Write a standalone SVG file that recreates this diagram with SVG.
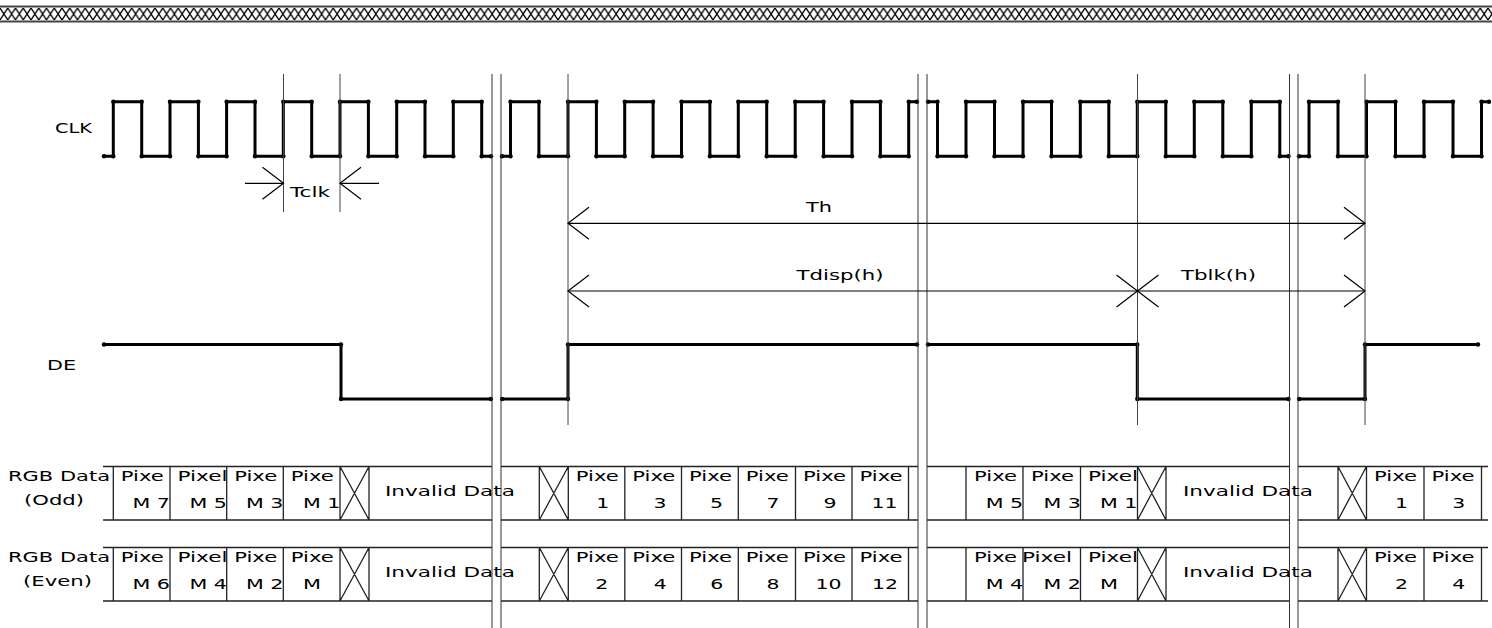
<svg xmlns="http://www.w3.org/2000/svg" width="1492" height="628" viewBox="0 0 1492 628">
<style>
text{font-family:"DejaVu Sans",Verdana,sans-serif;font-size:14.5px;fill:#000}
.c{text-anchor:middle}
.sig{fill:none;stroke:#000;stroke-width:3;stroke-linejoin:round;stroke-linecap:round;marker-start:url(#dot);marker-mid:url(#dot);marker-end:url(#dot)}
.vl{fill:none;stroke:#444;stroke-width:1}
.brk{fill:none;stroke:#333;stroke-width:1}
.grid{fill:none;stroke:#222;stroke-width:1.3}
.arr{fill:none;stroke:#000;stroke-width:1.2;marker-start:url(#ah);marker-end:url(#ah)}
.arr1{fill:none;stroke:#000;stroke-width:1.2;marker-end:url(#ah)}
</style>
<defs>
<marker id="dot" viewBox="-3 -3 6 6" refX="0" refY="0" markerWidth="6" markerHeight="6" markerUnits="userSpaceOnUse"><circle r="2.2" fill="#000"/></marker>
<marker id="ah" viewBox="-23 -18 25 36" refX="0" refY="0" markerWidth="25" markerHeight="36" markerUnits="userSpaceOnUse" orient="auto-start-reverse"><path d="M-21,-16L0,0L-21,16" fill="none" stroke="#000" stroke-width="1.2"/></marker>
<pattern id="hatch" x="0" y="8" width="7.75" height="12" patternUnits="userSpaceOnUse"><path d="M0,0L7.75,12M7.75,0L0,12" stroke="#000" stroke-width="1.3" fill="none"/></pattern>
<path id="rowgrid" class="grid" d="M103,466.5H492M103,520H492M501,466.5H918M501,520H918M927,466.5H1289.5M927,520H1289.5M1298,466.5H1488M1298,520H1488
M113.3,466.5V520M170,466.5V520M226.7,466.5V520M283.3,466.5V520M340,466.5V520M369,466.5V520M340,466.5L369,520M369,466.5L340,520
M539.3,466.5V520M568.3,466.5V520M539.3,466.5L568.3,520M568.3,466.5L539.3,520M624.8,466.5V520M681.5,466.5V520M738.3,466.5V520M795.5,466.5V520M852,466.5V520M908.5,466.5V520
M966,466.5V520M1023,466.5V520M1080.5,466.5V520M1137.5,466.5V520M1166,466.5V520M1137.5,466.5L1166,520M1166,466.5L1137.5,520
M1338,466.5V520M1366.5,466.5V520M1338,466.5L1366.5,520M1366.5,466.5L1338,520M1424,466.5V520M1481.5,466.5V520"/>
</defs>
<rect width="1492" height="628" fill="#fff"/>
<g id="header-band">
<rect x="0" y="8" width="1492" height="12" fill="url(#hatch)"/>
<path d="M0,6.5H1492M0,21.5H1492" stroke="#444" stroke-width="2"/>
</g>
<g id="labels">
<text x="55" y="133" textLength="37" lengthAdjust="spacingAndGlyphs">CLK</text>
<text x="47" y="370" textLength="29" lengthAdjust="spacingAndGlyphs">DE</text>
<text x="8" y="481" textLength="102" lengthAdjust="spacingAndGlyphs">RGB Data</text>
<text x="24" y="505" textLength="60" lengthAdjust="spacingAndGlyphs">(Odd)</text>
<text x="8" y="562" textLength="102" lengthAdjust="spacingAndGlyphs">RGB Data</text>
<text x="23" y="586" textLength="69" lengthAdjust="spacingAndGlyphs">(Even)</text>
</g>
<g id="rgb-odd">
<use href="#rowgrid"/>
<text x="120.8" y="481" textLength="43" lengthAdjust="spacingAndGlyphs">Pixe</text><text x="132.5" y="508" textLength="37.5" lengthAdjust="spacingAndGlyphs">M 7</text>
<text x="177.5" y="481" textLength="50" lengthAdjust="spacingAndGlyphs">Pixel</text><text x="189.5" y="508" textLength="37.5" lengthAdjust="spacingAndGlyphs">M 5</text>
<text x="234.2" y="481" textLength="43" lengthAdjust="spacingAndGlyphs">Pixe</text><text x="246" y="508" textLength="37.5" lengthAdjust="spacingAndGlyphs">M 3</text>
<text x="290.8" y="481" textLength="43" lengthAdjust="spacingAndGlyphs">Pixe</text><text x="303" y="508" textLength="37.5" lengthAdjust="spacingAndGlyphs">M 1</text>
<text x="385" y="496" textLength="130" lengthAdjust="spacingAndGlyphs">Invalid Data</text>
<text x="575.8" y="481" textLength="43" lengthAdjust="spacingAndGlyphs">Pixe</text><text class="c" x="602.8" y="508" textLength="13" lengthAdjust="spacingAndGlyphs">1</text>
<text x="632.3" y="481" textLength="43" lengthAdjust="spacingAndGlyphs">Pixe</text><text class="c" x="660" y="508" textLength="13" lengthAdjust="spacingAndGlyphs">3</text>
<text x="689" y="481" textLength="43" lengthAdjust="spacingAndGlyphs">Pixe</text><text class="c" x="716.5" y="508" textLength="13" lengthAdjust="spacingAndGlyphs">5</text>
<text x="745.8" y="481" textLength="43" lengthAdjust="spacingAndGlyphs">Pixe</text><text class="c" x="773" y="508" textLength="13" lengthAdjust="spacingAndGlyphs">7</text>
<text x="803" y="481" textLength="43" lengthAdjust="spacingAndGlyphs">Pixe</text><text class="c" x="830" y="508" textLength="13" lengthAdjust="spacingAndGlyphs">9</text>
<text x="859.5" y="481" textLength="43" lengthAdjust="spacingAndGlyphs">Pixe</text><text class="c" x="884.5" y="508" textLength="26" lengthAdjust="spacingAndGlyphs">11</text>
<text x="974" y="481" textLength="43" lengthAdjust="spacingAndGlyphs">Pixe</text><text x="985.7" y="508" textLength="37.5" lengthAdjust="spacingAndGlyphs">M 5</text>
<text x="1031" y="481" textLength="43" lengthAdjust="spacingAndGlyphs">Pixe</text><text x="1043.5" y="508" textLength="37.5" lengthAdjust="spacingAndGlyphs">M 3</text>
<text x="1088" y="481" textLength="50" lengthAdjust="spacingAndGlyphs">Pixel</text><text x="1100" y="508" textLength="37.5" lengthAdjust="spacingAndGlyphs">M 1</text>
<text x="1183" y="496" textLength="130" lengthAdjust="spacingAndGlyphs">Invalid Data</text>
<text x="1374" y="481" textLength="43" lengthAdjust="spacingAndGlyphs">Pixe</text><text class="c" x="1401.5" y="508" textLength="13" lengthAdjust="spacingAndGlyphs">1</text>
<text x="1431.5" y="481" textLength="43" lengthAdjust="spacingAndGlyphs">Pixe</text><text class="c" x="1458.8" y="508" textLength="13" lengthAdjust="spacingAndGlyphs">3</text>
</g>
<g id="rgb-even">
<use href="#rowgrid" y="81"/>
<text x="120.8" y="562" textLength="43" lengthAdjust="spacingAndGlyphs">Pixe</text><text x="132.5" y="589" textLength="37.5" lengthAdjust="spacingAndGlyphs">M 6</text>
<text x="177.5" y="562" textLength="50" lengthAdjust="spacingAndGlyphs">Pixel</text><text x="189.5" y="589" textLength="37.5" lengthAdjust="spacingAndGlyphs">M 4</text>
<text x="234.2" y="562" textLength="43" lengthAdjust="spacingAndGlyphs">Pixe</text><text x="246" y="589" textLength="37.5" lengthAdjust="spacingAndGlyphs">M 2</text>
<text x="290.8" y="562" textLength="43" lengthAdjust="spacingAndGlyphs">Pixe</text><text x="303" y="589" textLength="18" lengthAdjust="spacingAndGlyphs">M</text>
<text x="385" y="577" textLength="130" lengthAdjust="spacingAndGlyphs">Invalid Data</text>
<text x="575.8" y="562" textLength="43" lengthAdjust="spacingAndGlyphs">Pixe</text><text class="c" x="601.8" y="589" textLength="13" lengthAdjust="spacingAndGlyphs">2</text>
<text x="632.3" y="562" textLength="43" lengthAdjust="spacingAndGlyphs">Pixe</text><text class="c" x="660.3" y="589" textLength="13" lengthAdjust="spacingAndGlyphs">4</text>
<text x="689" y="562" textLength="43" lengthAdjust="spacingAndGlyphs">Pixe</text><text class="c" x="716.7" y="589" textLength="13" lengthAdjust="spacingAndGlyphs">6</text>
<text x="745.8" y="562" textLength="43" lengthAdjust="spacingAndGlyphs">Pixe</text><text class="c" x="773" y="589" textLength="13" lengthAdjust="spacingAndGlyphs">8</text>
<text x="803" y="562" textLength="43" lengthAdjust="spacingAndGlyphs">Pixe</text><text class="c" x="828.5" y="589" textLength="26" lengthAdjust="spacingAndGlyphs">10</text>
<text x="859.5" y="562" textLength="43" lengthAdjust="spacingAndGlyphs">Pixe</text><text class="c" x="885" y="589" textLength="26" lengthAdjust="spacingAndGlyphs">12</text>
<text x="974" y="562" textLength="43" lengthAdjust="spacingAndGlyphs">Pixe</text><text x="985.7" y="589" textLength="37.5" lengthAdjust="spacingAndGlyphs">M 4</text>
<text x="1022" y="562" textLength="50" lengthAdjust="spacingAndGlyphs">Pixel</text><text x="1043.5" y="589" textLength="37.5" lengthAdjust="spacingAndGlyphs">M 2</text>
<text x="1088" y="562" textLength="50" lengthAdjust="spacingAndGlyphs">Pixel</text><text x="1100" y="589" textLength="18" lengthAdjust="spacingAndGlyphs">M</text>
<text x="1183" y="577" textLength="130" lengthAdjust="spacingAndGlyphs">Invalid Data</text>
<text x="1374" y="562" textLength="43" lengthAdjust="spacingAndGlyphs">Pixe</text><text class="c" x="1401.5" y="589" textLength="13" lengthAdjust="spacingAndGlyphs">2</text>
<text x="1431.5" y="562" textLength="43" lengthAdjust="spacingAndGlyphs">Pixe</text><text class="c" x="1458.8" y="589" textLength="13" lengthAdjust="spacingAndGlyphs">4</text>
</g>
<g id="clk">
<polyline class="sig" points="104,156.3 113.3,156.3 113.3,101.7 141.7,101.7 141.7,156.3 170,156.3 170,101.7 198.4,101.7 198.4,156.3 226.6,156.3 226.6,101.7 255,101.7 255,156.3 283.3,156.3 283.3,101.7 311.7,101.7 311.7,156.3 340,156.3 340,101.7 368.4,101.7 368.4,156.3 396.7,156.3 396.7,101.7 425,101.7 425,156.3 453.3,156.3 453.3,101.7 481.7,101.7 481.7,156.3 491,156.3"/>
<polyline class="sig" points="502,156.3 510.5,156.3 510.5,101.7 538.9,101.7 538.9,156.3 568,156.3 568,101.7 596.4,101.7 596.4,156.3 624.7,156.3 624.7,101.7 653.1,101.7 653.1,156.3 681.5,156.3 681.5,101.7 709.9,101.7 709.9,156.3 738.3,156.3 738.3,101.7 766.7,101.7 766.7,156.3 795.2,156.3 795.2,101.7 823.6,101.7 823.6,156.3 852,156.3 852,101.7 880.4,101.7 880.4,156.3 908.7,156.3 908.7,101.7 917,101.7"/>
<polyline class="sig" points="928,101.7 937.5,101.7 937.5,156.3 966,156.3 966,101.7 994.5,101.7 994.5,156.3 1023,156.3 1023,101.7 1051.5,101.7 1051.5,156.3 1080.3,156.3 1080.3,101.7 1108.8,101.7 1108.8,156.3 1137.3,156.3 1137.3,101.7 1165.8,101.7 1165.8,156.3 1194.3,156.3 1194.3,101.7 1222.8,101.7 1222.8,156.3 1251.3,156.3 1251.3,101.7 1279.8,101.7 1279.8,156.3 1288.5,156.3"/>
<polyline class="sig" points="1299,156.3 1309,156.3 1309,101.7 1338,101.7 1338,156.3 1366.5,156.3 1366.5,101.7 1395.5,101.7 1395.5,156.3 1424,156.3 1424,101.7 1453,101.7 1453,156.3 1481.5,156.3 1481.5,101.7 1489,101.7"/>
</g>
<g id="de">
<polyline class="sig" points="104,344.5 341,344.5 341,399 491,399"/>
<polyline class="sig" points="502,399 568,399 568,344.5 917,344.5"/>
<polyline class="sig" points="928,344.5 1137.3,344.5 1137.3,399 1288.5,399"/>
<polyline class="sig" points="1299,399 1365,399 1365,344.5 1478,344.5"/>
</g>
<g id="connectors">
<path class="vl" d="M283.5,74V212M340,74V212M568,74V425M1137.5,74V425M1365,74V425"/>
<path class="brk" d="M492,74V628M501,74V628M918,74V628M927,74V628M1289.5,74V628M1298,74V628"/>
<path class="arr1" d="M245,183.3H283.5"/>
<path class="arr1" d="M379,183.3H340"/>
<path class="arr" d="M568,223.3H1365"/>
<path class="arr" d="M568,291H1137.5"/>
<path class="arr" d="M1137.5,291H1365"/>
</g>
<g id="timing-labels">
<text x="290" y="197" textLength="40" lengthAdjust="spacingAndGlyphs">Tclk</text>
<text x="806" y="212" textLength="26" lengthAdjust="spacingAndGlyphs">Th</text>
<text x="796.5" y="280" textLength="87" lengthAdjust="spacingAndGlyphs">Tdisp(h)</text>
<text x="1181" y="280" textLength="75" lengthAdjust="spacingAndGlyphs">Tblk(h)</text>
</g>
</svg>
